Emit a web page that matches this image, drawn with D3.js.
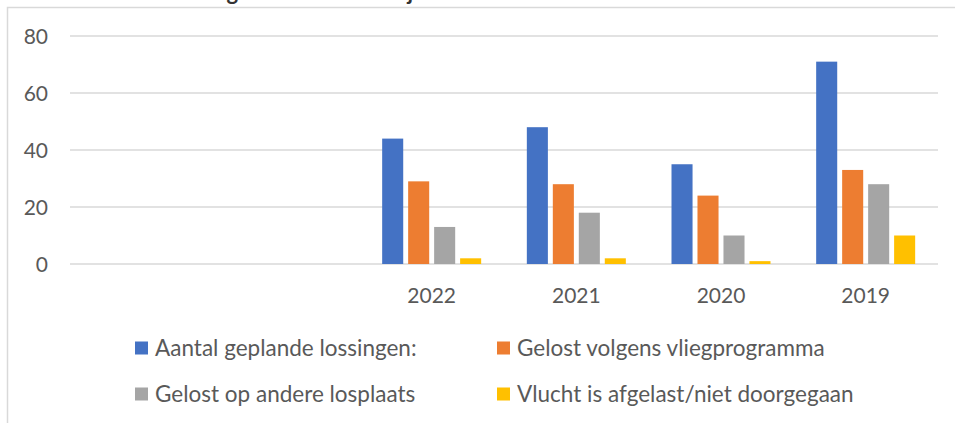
<!DOCTYPE html>
<html>
<head>
<meta charset="utf-8">
<script src="https://cdn.jsdelivr.net/npm/d3@7"></script>
<style>
  html, body { margin: 0; padding: 0; background: #fff; }
  svg { display: block; font-family: Lato, "Open Sans", sans-serif; }
</style>
</head>
<body>
<svg id="chart" width="955" height="423"></svg>
<script>
const categories = ["", "", "2022", "2021", "2020", "2019"];
const seriesNames = [
  "Aantal geplande lossingen:",
  "Gelost volgens vliegprogramma",
  "Gelost op andere losplaats",
  "Vlucht is afgelast/niet doorgegaan"
];
const geplande   = [null, null, 44, 48, 35, 71];
const volgens    = [null, null, 29, 28, 24, 33];
const andere     = [null, null, 13, 18, 10, 28];
const afgelast   = [null, null, 2, 2, 1, 10];
const yTicks = [0, 20, 40, 60, 80];
const colors = ["#4472C4", "#ED7D31", "#A5A5A5", "#FFC000"];
const titleText = "Overzicht lossingen van de laatste jaren";

const seriesValues = [geplande, volgens, andere, afgelast];

const svg = d3.select("#chart");

// outer chart frame
svg.append("path")
  .attr("d", "M7.5,423 V7.5 H955")
  .attr("fill", "none").attr("stroke", "#d9d9d9").attr("stroke-width", 1.5);

// title above the frame (clipped by the top edge, as in the reference)
svg.append("text")
  .attr("x", 70).attr("y", 0)
  .attr("font-size", 22).attr("font-weight", "bold").attr("fill", "#333")
  .text(titleText);

const x = d3.scaleBand().domain(categories.map((c, i) => i)).range([70, 938]);
const xInner = d3.scaleBand().domain(seriesNames).range([-49.5, 49.5]).paddingInner(0.19);
const y = d3.scaleLinear().domain([0, 80]).range([264, 36]);

// gridlines
svg.append("g").selectAll("line").data(yTicks).join("line")
  .attr("x1", 70).attr("x2", 938)
  .attr("y1", d => y(d)).attr("y2", d => y(d))
  .attr("stroke", "#d9d9d9").attr("stroke-width", 1.5);

// y axis labels
const yAxis = d3.axisLeft(y).tickValues(yTicks).tickSize(0).tickPadding(0);
const yg = svg.append("g").attr("transform", "translate(48,0)").call(yAxis);
yg.select(".domain").remove();
yg.selectAll("text").attr("font-size", 21).attr("fill", "#595959")
  .attr("font-family", "Lato, 'Open Sans', sans-serif").attr("dy", "0.35em");

// bars
seriesNames.forEach((name, si) => {
  svg.append("g").selectAll("rect")
    .data(seriesValues[si].map((v, i) => ({ v, i })).filter(d => d.v != null))
    .join("rect")
    .attr("x", d => x(d.i) + x.bandwidth() / 2 + xInner(name))
    .attr("width", xInner.bandwidth())
    .attr("y", d => y(d.v))
    .attr("height", d => y(0) - y(d.v))
    .attr("fill", colors[si]);
});

// x axis labels
const xAxis = d3.axisBottom(x).tickFormat(i => categories[i]).tickSize(0).tickPadding(0);
const xg = svg.append("g").attr("transform", "translate(0,296)").call(xAxis);
xg.select(".domain").remove();
xg.selectAll("text").attr("font-size", 21).attr("fill", "#595959")
  .attr("font-family", "Lato, 'Open Sans', sans-serif").attr("dy", "0.35em");

// legend
const legendPos = [[135, 348], [497, 348], [135, 394], [497, 394]];
const lg = svg.append("g");
seriesNames.forEach((name, si) => {
  const [lx, ly] = legendPos[si];
  lg.append("rect").attr("x", lx).attr("y", ly - 6.5).attr("width", 13).attr("height", 13)
    .attr("fill", colors[si]);
  lg.append("text").attr("x", lx + 20).attr("y", ly).attr("dy", "0.35em")
    .attr("font-size", 22.5).attr("fill", "#595959").text(name);
});
</script>
</body>
</html>
